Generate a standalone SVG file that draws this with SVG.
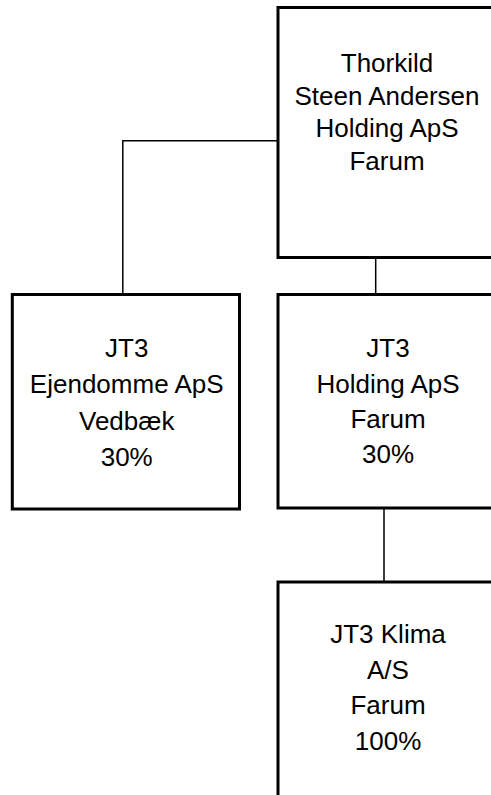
<svg xmlns="http://www.w3.org/2000/svg" width="491" height="795" viewBox="0 0 491 795">
<style>
.box{fill:#fff;stroke:#000;stroke-width:3}
.con{fill:none;stroke:#000;stroke-width:1.5}
text{font-family:"Liberation Sans",Arial,sans-serif;font-size:26px;fill:#000;text-anchor:middle}
</style>
<rect width="491" height="795" fill="#fff"/>
<g id="connectors">
<polyline class="con" points="278,140.7 122.8,140.7 122.8,294"/>
<line class="con" x1="375.7" y1="258" x2="375.7" y2="294"/>
<line class="con" x1="384" y1="508" x2="384" y2="582"/>
</g>
<g id="node-thorkild">
<rect class="box" x="278" y="7.5" width="240" height="250"/>
<text x="387" y="71.7">Thorkild</text>
<text x="387" y="104.5">Steen Andersen</text>
<text x="387" y="137">Holding ApS</text>
<text x="387" y="169.5">Farum</text>
</g>
<g id="node-ejendomme">
<rect class="box" x="12.3" y="294.5" width="227.2" height="214.5"/>
<text x="126.7" y="356.7">JT3</text>
<text x="126.7" y="393">Ejendomme ApS</text>
<text x="126.7" y="429.5">Vedbæk</text>
<text x="126.7" y="465.5">30%</text>
</g>
<g id="node-holding">
<rect class="box" x="278" y="294.5" width="240" height="213.5"/>
<text x="388" y="356.7">JT3</text>
<text x="388" y="392.5">Holding ApS</text>
<text x="388" y="427.5">Farum</text>
<text x="388" y="463.3">30%</text>
</g>
<g id="node-klima">
<rect class="box" x="278" y="582" width="240" height="240"/>
<text x="388" y="643.3">JT3 Klima</text>
<text x="388" y="678.5">A/S</text>
<text x="388" y="714">Farum</text>
<text x="388" y="750">100%</text>
</g>
</svg>
